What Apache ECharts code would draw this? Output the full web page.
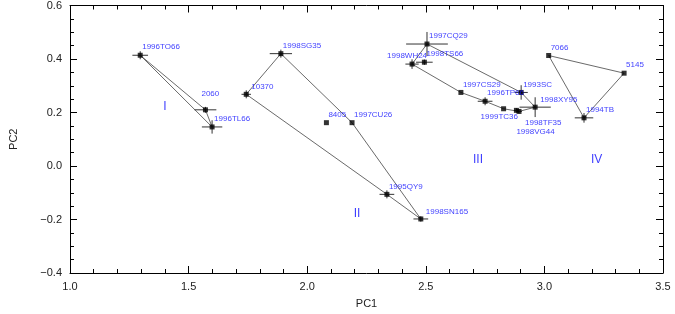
<!DOCTYPE html>
<html><head><meta charset="utf-8">
<script src="https://cdn.jsdelivr.net/npm/echarts@6/dist/echarts.min.js"></script>
<style>html,body{margin:0;padding:0;background:#fff}#c{width:675px;height:314px}</style>
</head><body><div id="c"></div>
<script>
// ---- data ----
const names = ['1996TO66','2060','1996TL66','10370','1998SG35','8405','1997CU26','1995QY9','1998SN165',
  '1997CQ29','1998WH24','1998TS66','1997CS29','1996TP66','1993SC','1999TC36','1998XY95','1998TF35','1998VG44',
  '7066','5145','1994TB'];
const pc1 = [1.296,1.571,1.599,1.743,1.889,2.081,2.189,2.336,2.479,
  2.505,2.442,2.494,2.648,2.750,2.902,2.828,2.961,2.893,2.882,
  3.018,3.336,3.167];
const pc2 = [0.414,0.210,0.146,0.268,0.420,0.162,0.162,-0.106,-0.198,
  0.456,0.381,0.388,0.275,0.242,0.275,0.214,0.220,0.204,0.208,
  0.413,0.347,0.180];
const xErr = [0.033,0.046,0.043,0.020,0.047,0,0,0.031,0.031,
  0.088,0.028,0.035,0,0.031,0.028,0,0.066,0.012,0.010,
  0,0,0.039];
const yErr = [0.015,0.011,0.025,0.015,0.015,0,0,0.015,0.010,
  0.045,0.018,0.010,0,0.015,0.027,0,0.037,0.008,0.008,
  0,0,0.018];
// hull outlines of each group (vertex order)
const group1 = ['1996TO66','2060','1996TL66','1996TO66'];
const group2 = ['10370','1998SG35','1997CU26','1998SN165','1995QY9','10370'];
const group3 = ['1997CQ29','1993SC','1998XY95','1998TF35','1999TC36','1996TP66','1997CS29','1998WH24','1997CQ29'];
const group4 = ['7066','5145','1994TB','7066'];
const groupNames = ['I','II','III','IV'];
const groupX = [1.40,2.21,2.72,3.22];
const groupY = [0.22,-0.18,0.025,0.025];

// ---- style (label offsets, px) ----
const labelOffset = {'2060':[-4,-16],'1998WH24':[-25,-8],'1999TC36':[-23,8],'1998TF35':[6,11],'1998VG44':[0,21],
  '1998XY95':[5,-7],'1998SN165':[5,-7],'10370':[5,-8]};
const blue = '#0a0aff';

const idx = {}; names.forEach((n,i)=>idx[n]=i);
const hull = g => g.map(n => [pc1[idx[n]], pc2[idx[n]]]);

const chart = echarts.init(document.getElementById('c'));
const font = '"Liberation Sans", Arial, sans-serif';
function axis(extra, split){
  return Object.assign({
    type:'value',
    axisLine:{show:true,onZero:false,lineStyle:{color:'#000',width:1}},
    axisTick:{show:true,inside:true,length:7,lineStyle:{color:'#000'}},
    minorTick:{show:true,splitNumber:split,length:4,lineStyle:{color:'#000'}},
    splitLine:{show:false}
  }, extra);
}
const lineSeries = [group1,group2,group3,group4].map(g => ({
  type:'line', data:hull(g), symbol:'none', silent:true, z:2,
  lineStyle:{color:'#444',width:0.8}
}));
const fmt = v => (v<0?'\u2212':'') + Math.abs(v).toFixed(1);
const tickText = {fontFamily:font,fontSize:11,color:'#222',margin:8,formatter:fmt};

chart.setOption({
  animation:false,
  grid:{left:65,right:12,top:2,bottom:41},
  xAxis:[
    axis({min:1.0,max:3.5,interval:0.5,position:'bottom',
      name:'PC1',nameLocation:'middle',nameGap:25,nameTextStyle:{fontFamily:font,fontSize:11,color:'#222'},
      axisLabel:tickText},5),
    axis({min:1.0,max:3.5,interval:0.5,position:'top',axisLabel:{show:false}},5)
  ],
  yAxis:[
    axis({min:-0.4,max:0.6,interval:0.2,position:'left',
      name:'PC2',nameLocation:'middle',nameGap:51,nameTextStyle:{fontFamily:font,fontSize:11,color:'#222'},
      axisLabel:tickText},4),
    axis({min:-0.4,max:0.6,interval:0.2,position:'right',axisLabel:{show:false}},4)
  ],
  series: lineSeries.concat([
    {
      type:'custom', z:3, silent:true,
      data: names.map((n,i)=>[pc1[i],pc2[i],xErr[i],yErr[i]]),
      renderItem:(params,api)=>{
        const x=api.value(0), y=api.value(1), ex=api.value(2), ey=api.value(3);
        const ch=[];
        if(ex>0){const a=api.coord([x-ex,y]),b=api.coord([x+ex,y]);
          ch.push({type:'line',shape:{x1:a[0],y1:a[1],x2:b[0],y2:b[1]},style:{stroke:'#333',lineWidth:1}});}
        if(ey>0){const a=api.coord([x,y-ey]),b=api.coord([x,y+ey]);
          ch.push({type:'line',shape:{x1:a[0],y1:a[1],x2:b[0],y2:b[1]},style:{stroke:'#333',lineWidth:1}});}
        return {type:'group',children:ch};
      }
    },
    {
      type:'scatter', z:4, symbol:'rect', symbolSize:5, itemStyle:{color:'#000'},
      data: names.map((n,i)=>({name:n,value:[pc1[i],pc2[i]],
        label:{show:true,position:'inside',align:'left',verticalAlign:'middle',
          offset:labelOffset[n]||[2,-8],color:blue,fontFamily:font,fontSize:8,formatter:n}}))
    },
    {
      type:'scatter', z:5, symbolSize:0, silent:true,
      data: groupNames.map((g,i)=>({name:g,value:[groupX[i],groupY[i]]})),
      label:{show:true,position:'inside',formatter:p=>p.name,color:blue,fontFamily:font,fontSize:12}
    }
  ])
});
</script></body></html>
